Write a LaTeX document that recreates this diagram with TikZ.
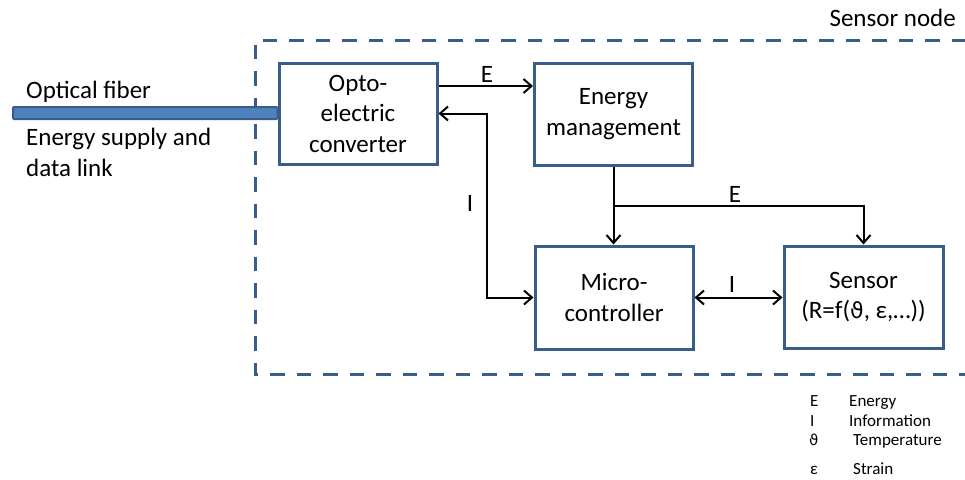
\documentclass[tikz,border=0pt]{standalone}
\usepackage{fontspec}
\setmainfont{Carlito}
\newfontfamily\symfont{DejaVu Sans}
\usetikzlibrary{arrows.meta,calc}
\definecolor{boxblue}{HTML}{385D8A}
\definecolor{fiberblue}{HTML}{4F81BD}
\newcommand\mainfs{\fontsize{25}{30.5}\selectfont}
\newcommand\legfs{\fontsize{17}{20}\selectfont}
\begin{document}
\begin{tikzpicture}[x=1pt,y=-1pt,
  box/.style={draw=boxblue, line width=3pt, minimum width=158pt, minimum height=101pt,
              align=center, font=\mainfs, inner sep=0pt},
  txt/.style={font=\mainfs, inner sep=0pt},
  leg/.style={font=\legfs, inner sep=0pt, anchor=base west},
  conn/.style={draw=black, line width=2pt, -{Straight Barb[length=8pt,width=14pt,line width=2pt]}},
  dconn/.style={draw=black, line width=2pt, {Straight Barb[length=8pt,width=14pt,line width=2pt]}-{Straight Barb[length=8pt,width=14pt,line width=2pt]}},
  dashbox/.style={draw=boxblue, line width=3pt, dash pattern=on 14.5pt off 12pt},
  fiber/.style={draw=boxblue, fill=fiberblue, line width=2pt, rounded corners=1pt}
]
\useasboundingbox (0,0) rectangle (965,479);

% sensor node frame (right side lies beyond the picture)
\draw[dashbox] (966,40) -- (255,40) -- (255,374) -- (966,374);
\node[txt, anchor=base east] (sn) at (956,26) {Sensor node};

% boxes
\node[box] (opto) at (358,113.5) {Opto-\\electric\\converter};
\node[box, minimum height=102pt] (em) at (613.5,114) {Energy\\management};
\node[box, minimum height=103pt] (mc) at (614,297.5) {Micro-\\controller};
\node[box, minimum height=102pt, minimum width=159pt] (sen) at (863.5,297) {Sensor\\(R=f({\symfont\fontsize{22}{30}\selectfont ϑ}, ε,…))};

% optical fiber
\draw[fiber] (13,107) rectangle (opto.west |- 0,119);
\node[txt, anchor=base west] (oft) at (26,98) {Optical fiber};
\node[txt, anchor=base west] (es1) at (26,145) {Energy supply and};
\node[txt, anchor=base west] (es2) at (26,176.5) {data link};

% connectors
\draw[conn] ([yshift=27.5pt]opto.east) -- ([yshift=27.5pt]opto.east -| em.west);
\node[txt, anchor=base] (lE1) at (487,82) {E};

\coordinate (ibend) at (487,0);
\draw[dconn] (opto.east) -- (opto.east -| ibend) -- (ibend |- mc.west) -- (mc.west);
\node[txt, anchor=base] (lI1) at (470,211) {I};

\draw[conn] (em.south) -- (em.south |- mc.north);
\coordinate (br) at ($(em.south)!0.5!(mc.north)$);
\draw[conn] (br) -| (sen.north);
\node[txt, anchor=base] (lE2) at (735,202) {E};

\draw[dconn] (mc.east) -- (mc.east -| sen.west);
\node[txt, anchor=base] (lI2) at (732,292) {I};

% legend
\node[leg] (k1) at (810,406) {E};
\node[leg] (v1) at (849,406) {Energy};
\node[leg] (k2) at (810,426.5) {I};
\node[leg] (v2) at (849,426.5) {Information};
\node[leg] (k3) at (809,445.5) {{\symfont\fontsize{15}{20}\selectfont ϑ}};
\node[leg] (v3) at (853,445.5) {Temperature};
\node[leg] (k4) at (810,474) {ε};
\node[leg] (v4) at (853,474) {Strain};
\end{tikzpicture}
\end{document}
